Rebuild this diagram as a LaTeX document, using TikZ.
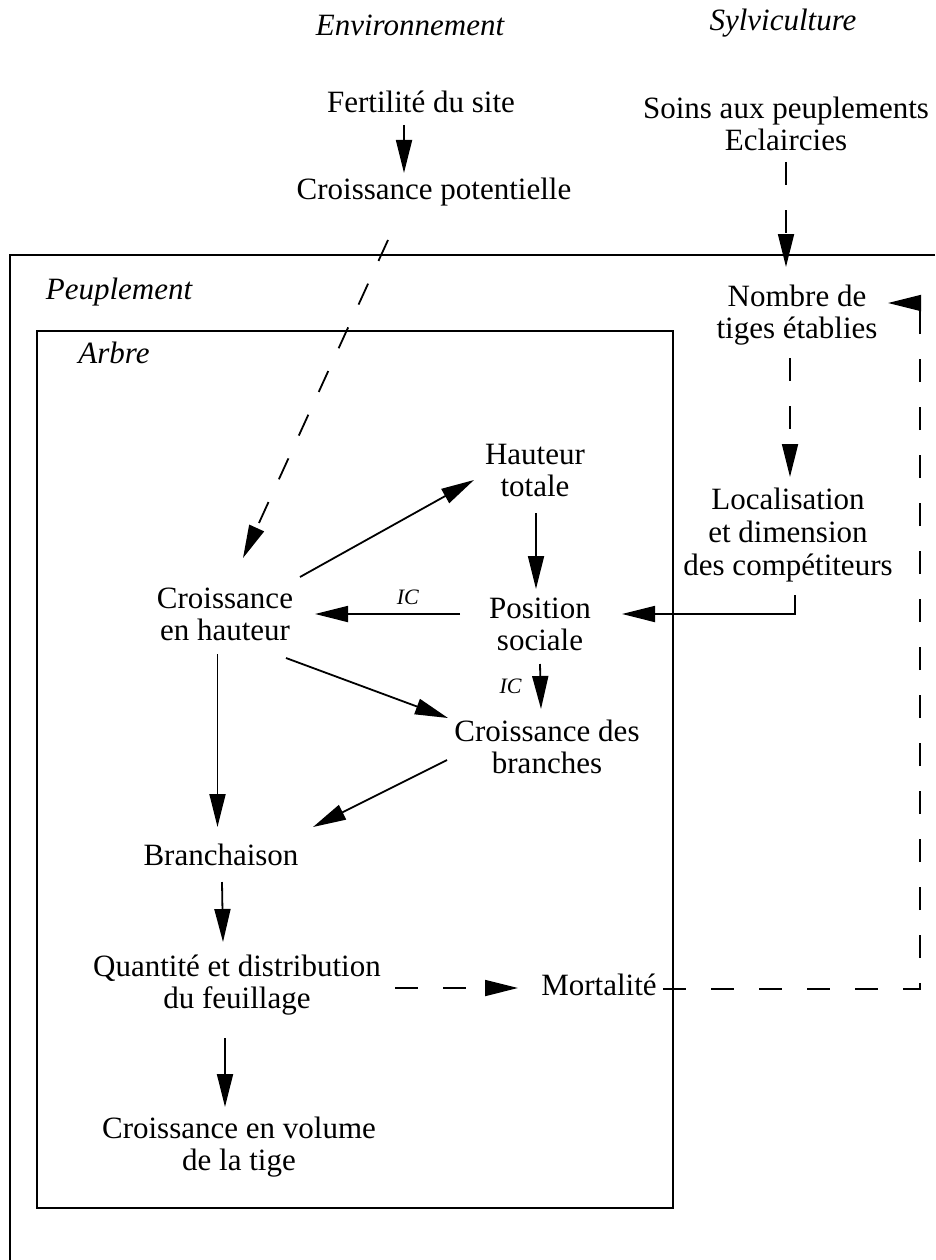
\documentclass[tikz,border=0pt]{standalone}
\usepackage{fontspec}
\setmainfont{Liberation Serif}
\usetikzlibrary{arrows.meta,calc}
\begin{document}
\begin{tikzpicture}[x=1pt,y=-1pt,
  lbl/.style={font=\fontsize{31}{32}\selectfont, align=center, inner sep=0pt},
  ital/.style={font=\fontsize{31}{32}\selectfont\itshape, inner sep=0pt},
  iclbl/.style={font=\fontsize{22}{24}\selectfont\itshape, inner sep=0pt},
  arr/.style={line width=1.8pt, -{Triangle[length=33pt,width=16pt]}},
  darr/.style={arr, dash pattern=on 23pt off 25pt},
  boxline/.style={line width=1.5pt}]
\useasboundingbox (0,0) rectangle (935,1260);
% frames
\draw[boxline] (935,255) -- (10,255) -- (10,1260);
\draw[boxline] (37,331) rectangle (673,1208);
% texts
\node[ital] (env) at (410,25) {Environnement};
\node[ital] (sylv) at (783,23) {Sylviculture};
\node[ital] (peup) at (119,292) {Peuplement};
\node[ital] (arbre) at (114,353) {Arbre};
\node[lbl] (fert) at (421,102) {Fertilité du site};
\node[lbl] (cpot) at (434,192) {Croissance potentielle};
\node[lbl] (soins) at (786,124) {Soins aux peuplements\\Eclaircies};
\node[lbl] (nombre) at (797,315) {Nombre de\\tiges établies};
\node[lbl, font=\fontsize{31}{33}\selectfont] (loc) at (788,535) {Localisation\\et dimension\\des compétiteurs};
\node[lbl] (haut) at (535,470) {Hauteur\\totale};
\node[lbl] (ch) at (225,614) {Croissance\\en hauteur};
\node[lbl] (pos) at (540,624) {Position\\sociale};
\node[lbl] (cb) at (547,747) {Croissance des\\branches};
\node[lbl] (bra) at (221,855) {Branchaison};
\node[lbl] (qd) at (237,985) {Quantité et distribution\\du feuillage};
\node[lbl] (mort) at (599,985) {Mortalité};
\node[lbl] (cv) at (239,1147) {Croissance en volume\\de la tige};
% connectors
\draw[arr] ($(fert)+(-17,23)$) -- ($(cpot)+(-30,-19)$);
\draw[darr] ($(cpot)+(-46,48)$) -- ($(ch)+(18,-56)$);
\draw[darr] ($(soins)+(0,38)$) -- ($(nombre)+(-11,-48)$);
\draw[darr] ($(nombre)+(-7,43)$) -- ($(loc)+(2,-58)$);
\draw[arr] ($(ch)+(75,-37)$) -- ($(haut)+(-61,10)$);
\draw[arr] ($(haut)+(1,43)$) -- ($(pos)+(-4,-35)$);
\draw[arr] ($(pos)+(-80,-10)$) -- node[iclbl, above=8pt, pos=0.36] (ic1) {IC} ($(ch)+(90,0)$);
\draw[arr] ($(loc)+(7,60)$) |- ($(pos)+(82,-10)$);
\draw[arr] ($(pos)+(0,40)$) -- node[iclbl, left=18pt, pos=0.5] (ic2) {IC} ($(cb)+(-6,-38)$);
\draw[arr] ($(ch)+(61,44)$) -- ($(cb)+(-99,-29)$);
\draw[arr] ($(cb)+(-100,13)$) -- ($(bra)+(92,-28)$);
\draw[arr] ($(ch)+(-7.5,40)$) -- ($(bra)+(-3.5,-28)$);
\draw[arr] ($(bra)+(1,27)$) -- ($(qd)+(-14,-43)$);
\draw[darr] ($(qd)+(158,3)$) -- ($(mort)+(-81,3)$);
\coordinate (fbbot) at ($(mort)+(321,4)$);
\draw[darr] ($(mort)+(64,4)$) -- (fbbot) |- ($(nombre)+(91,-12)$);
\draw[arr] ($(qd)+(-12,53)$) -- ($(cv)+(-14,-40)$);
\end{tikzpicture}
\end{document}
